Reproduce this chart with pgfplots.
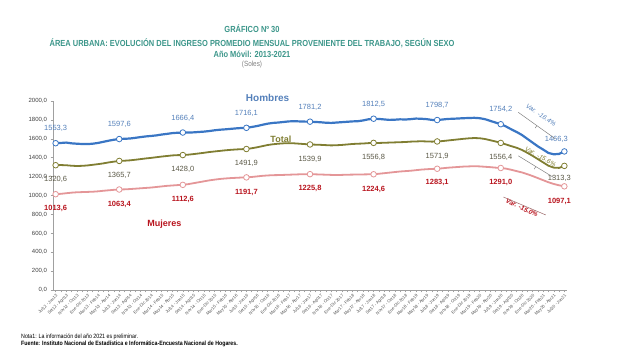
\documentclass[border=0pt]{standalone}
\usepackage{pgfplots}
\pgfplotsset{compat=1.18}
\usepackage{pgfplotstable}
\usepackage{fontspec}
\setmainfont{Liberation Sans}
\definecolor{ttl}{RGB}{60,150,138}
\definecolor{hline}{RGB}{58,118,196}
\definecolor{hlab}{RGB}{84,128,186}
\definecolor{tline}{RGB}{128,126,50}
\definecolor{tlab}{RGB}{90,88,70}
\definecolor{mline}{RGB}{228,150,152}
\definecolor{mlab}{RGB}{184,20,30}
\definecolor{axg}{RGB}{160,160,160}
\pgfplotstableread{
i h t m
0 1553.3 1320.6 1013.6
1 1556 1322 1018
2 1560 1320 1024
3 1552 1315 1030
4 1548 1312 1034
5 1545 1314 1036
6 1544 1318 1038
7 1548 1325 1040
8 1556 1332 1044
9 1568 1340 1050
10 1580 1350 1055
11 1590 1358 1060
12 1597.6 1365.7 1063.4
13 1600 1368 1065
14 1603 1372 1068
15 1610 1378 1072
16 1618 1385 1076
17 1625 1392 1080
18 1630 1398 1084
19 1636 1405 1090
20 1645 1412 1096
21 1652 1418 1102
22 1660 1424 1106
23 1664 1427 1110
24 1666.4 1428.0 1112.6
25 1666 1432 1120
26 1668 1438 1130
27 1672 1445 1140
28 1676 1452 1150
29 1682 1460 1160
30 1690 1466 1168
31 1696 1472 1175
32 1700 1478 1180
33 1705 1483 1184
34 1710 1487 1187
35 1714 1490 1190
36 1716.1 1491.9 1191.7
37 1725 1500 1196
38 1735 1510 1202
39 1748 1522 1208
40 1760 1534 1212
41 1768 1542 1215
42 1772 1548 1216
43 1778 1552 1218
44 1784 1554 1220
45 1786 1552 1222
46 1784 1548 1224
47 1782 1544 1225
48 1781.2 1539.9 1225.8
49 1778 1538 1224
50 1775 1536 1222
51 1770 1533 1220
52 1768 1530 1218
53 1772 1532 1216
54 1776 1535 1218
55 1780 1540 1220
56 1784 1545 1221
57 1786 1548 1222
58 1794 1550 1223
59 1806 1554 1224
60 1812.5 1556.8 1224.6
61 1810 1556 1230
62 1805 1558 1236
63 1800 1560 1242
64 1802 1562 1248
65 1806 1564 1254
66 1804 1566 1258
67 1808 1570 1262
68 1814 1572 1268
69 1812 1574 1274
70 1808 1572 1278
71 1800 1570 1281
72 1798.7 1571.9 1283.1
73 1804 1576 1288
74 1810 1582 1294
75 1812 1588 1298
76 1815 1594 1302
77 1818 1600 1306
78 1820 1605 1308
79 1822 1608 1310
80 1818 1606 1308
81 1808 1598 1304
82 1790 1585 1300
83 1772 1572 1295
84 1754.2 1556.4 1291.0
85 1730 1540 1284
86 1700 1522 1272
87 1672 1505 1258
88 1640 1482 1244
89 1600 1452 1226
90 1560 1420 1206
91 1520 1385 1184
92 1486 1350 1162
93 1450 1315 1140
94 1436 1295 1122
95 1440 1292 1108
96 1466.3 1313.3 1097.1
}\datatable
\begin{document}
\begin{tikzpicture}[x=1pt,y=1pt]
\path[use as bounding box] (0,0) rectangle (620,363);
% titles
\node[font=\fontsize{8.8}{10}\selectfont\bfseries,text=ttl] at (252,334) {\scalebox{0.85}[1]{GRÁFICO Nº 30}};
\node[font=\fontsize{8.8}{10}\selectfont\bfseries,text=ttl] at (252,320) {\scalebox{0.85}[1]{ÁREA URBANA: EVOLUCIÓN DEL INGRESO PROMEDIO MENSUAL PROVENIENTE DEL TRABAJO, SEGÚN SEXO}};
\node[font=\fontsize{8.8}{10}\selectfont\bfseries,text=ttl] at (252,309) {\scalebox{0.85}[1]{Año Móvil: 2013-2021}};
\node[font=\fontsize{7.5}{9}\selectfont,text=gray] at (252,298) {\scalebox{0.85}[1]{(Soles)}};
% notes
\node[anchor=west,font=\fontsize{6.2}{7}\selectfont,inner sep=0pt] at (21,26) {\scalebox{0.85}[1]{Nota1: La información del año 2021 es preliminar.}};
\node[anchor=west,font=\fontsize{6.2}{7}\selectfont\bfseries,inner sep=0pt] at (21,19) {\scalebox{0.85}[1]{Fuente: Instituto Nacional de Estadística e Informática-Encuesta Nacional de Hogares.}};
\begin{axis}[
  at={(53pt,73pt)}, anchor=south west,
  scale only axis, width=514pt, height=189pt,
  xmin=-0.5, xmax=96.5, ymin=0, ymax=2000,
  axis x line=bottom, axis y line=left,
  axis line style={-, axg, line width=0.6pt},
  ytick={0,200,...,2000},
  yticklabel style={font=\fontsize{6}{7}\selectfont, text=black!75},
  /pgf/number format/assume math mode=true,
  y tick label style={/pgf/number format/.cd, fixed, fixed zerofill, precision=1, use comma, 1000 sep={}},
  xtick={0,2,...,96},
  minor xtick={1,3,...,95},
  xticklabels={Jul12 - Jun13,Set12 - Ago13,Nov12 - Oct13,Ene-Dic 2013,Mar13 - Feb14,May13 - Abr14,Jul13 - Jun14,Set13 - Ago14,Nov13 - Oct14,Ene-Dic 2014,Mar14 - Feb15,May14 - Abr15,Jul14 - Jun15,Set14 - Ago15,Nov14 - Oct15,Ene-Dic 2015,Mar15 - Feb16,May15 - Abr16,Jul15 - Jun16,Set15 - Ago16,Nov15 - Oct16,Ene-Dic 2016,Mar16 - Feb17,May16 - Abr17,Jul16 - Jun17,Set16 - Ago17,Nov16 - Oct17,Ene-Dic 2017,Mar17 - Feb18,May17 - Abr18,Jul17 - Jun18,Set17 - Ago18,Nov17 - Oct18,Ene-Dic 2018,Mar18 - Feb19,May18 - Abr19,Jul18 - Jun19,Set18 - Ago19,Nov18 - Oct19,Ene-Dic 2019,Mar19 - Feb20,May19 - Abr20,Jul19 - Jun20,Set19 - Ago20,Nov19 - Oct20,Ene-Dic 2020,Mar20 - Feb21,May20 - Abr21,Jul20 - Jun21},
  xticklabel style={font=\fontsize{4.2}{5}\selectfont, text=black!70, rotate=45, anchor=north east, inner sep=0.8pt},
  tick align=outside,
  major tick length=2.5pt, minor tick length=2.5pt,
  tick style={axg, line width=0.5pt},
  clip=false,
]
\addplot[mline, line width=1.8pt] table[x=i,y=m] {\datatable};
\addplot[tline, line width=1.8pt] table[x=i,y=t] {\datatable};
\addplot[hline, line width=2.2pt] table[x=i,y=h] {\datatable};
\addplot[only marks, mark=*, mark size=2.8pt, mark options={fill=white, draw=mline, line width=0.8pt}] coordinates {(0,1013.6) (12,1063.4) (24,1112.6) (36,1191.7) (48,1225.8) (60,1224.6) (72,1283.1) (84,1291.0) (96,1097.1)};
\addplot[only marks, mark=*, mark size=2.8pt, mark options={fill=white, draw=tline, line width=0.8pt}] coordinates {(0,1320.6) (12,1365.7) (24,1428.0) (36,1491.9) (48,1539.9) (60,1556.8) (72,1571.9) (84,1556.4) (96,1313.3)};
\addplot[only marks, mark=*, mark size=2.8pt, mark options={fill=white, draw=hline, line width=0.8pt}] coordinates {(0,1553.3) (12,1597.6) (24,1666.4) (36,1716.1) (48,1781.2) (60,1812.5) (72,1798.7) (84,1754.2) (96,1466.3)};
% Hombres labels
\begin{scope}[every node/.style={font=\fontsize{7.5}{8}\selectfont, text=hlab}]
\node[above=8pt] at (axis cs:0,1553.3) {1553,3};
\node[above=8pt] at (axis cs:12,1597.6) {1597,6};
\node[above=8pt] at (axis cs:24,1666.4) {1666,4};
\node[above=8pt] at (axis cs:36,1716.1) {1716,1};
\node[above=8pt] at (axis cs:48,1781.2) {1781,2};
\node[above=8pt] at (axis cs:60,1812.5) {1812,5};
\node[above=8pt] at (axis cs:72,1798.7) {1798,7};
\node[above=8pt] at (axis cs:84,1754.2) {1754,2};
\node[above=5pt, xshift=-8pt] at (axis cs:96,1466.3) {1466,3};
\end{scope}
\begin{scope}[every node/.style={font=\fontsize{7.5}{8}\selectfont, text=tlab}]
\node[below=8pt] at (axis cs:0,1320.6) {1320,6};
\node[below=8pt] at (axis cs:12,1365.7) {1365,7};
\node[below=8pt] at (axis cs:24,1428.0) {1428,0};
\node[below=8pt] at (axis cs:36,1491.9) {1491,9};
\node[below=8pt] at (axis cs:48,1539.9) {1539,9};
\node[below=8pt] at (axis cs:60,1556.8) {1556,8};
\node[below=8pt] at (axis cs:72,1571.9) {1571,9};
\node[below=8pt] at (axis cs:84,1556.4) {1556,4};
\node[below=6pt, xshift=-5pt] at (axis cs:96,1313.3) {1313,3};
\end{scope}
\begin{scope}[every node/.style={font=\fontsize{7.5}{8}\selectfont\bfseries, text=mlab}]
\node[below=8pt] at (axis cs:0,1013.6) {1013,6};
\node[below=8pt] at (axis cs:12,1063.4) {1063,4};
\node[below=8pt] at (axis cs:24,1112.6) {1112,6};
\node[below=8pt] at (axis cs:36,1191.7) {1191,7};
\node[below=8pt] at (axis cs:48,1225.8) {1225,8};
\node[below=8pt] at (axis cs:60,1224.6) {1224,6};
\node[below=7pt] at (axis cs:72,1283.1) {1283,1};
\node[below=8pt] at (axis cs:84,1291.0) {1291,0};
\node[below=8pt, xshift=-5pt] at (axis cs:96,1097.1) {1097,1};
\end{scope}
\node[font=\fontsize{10}{11}\selectfont\bfseries, text=hlab] at (axis cs:40,2030) {Hombres};
\node[font=\fontsize{9}{10}\selectfont\bfseries, text=tline] at (axis cs:42.5,1595) {Total};
\node[font=\fontsize{9}{10}\selectfont\bfseries, text=mlab] at (axis cs:20.5,700) {Mujeres};
% variation brackets
\draw[gray, line width=0.5pt] (axis cs:87.3,1880) -- (axis cs:94.3,1600);
\draw[gray, line width=0.5pt] (axis cs:90.8,1740) -- ++(-1.5pt,-2.5pt);
\node[rotate=-33, font=\fontsize{6.5}{7}\selectfont\itshape, text=hlab] at (axis cs:91.6,1850) {Var. -16.4\%};
\draw[gray, line width=0.5pt] (axis cs:87.3,1420) -- (axis cs:94,1190);
\draw[gray, line width=0.5pt] (axis cs:90.6,1305) -- ++(-1.5pt,-2.5pt);
\node[rotate=-30, font=\fontsize{6.5}{7}\selectfont\itshape, text=tline] at (axis cs:91.5,1410) {Var. -15.6\%};
\draw[gray!80!red, line width=0.5pt] (axis cs:84.5,984) -- (axis cs:92.5,794);
\node[rotate=-25, font=\fontsize{6.5}{7}\selectfont\bfseries\itshape, text=mlab] at (axis cs:88,868) {Var. -15.0\%};
\end{axis}
\end{tikzpicture}
\end{document}
